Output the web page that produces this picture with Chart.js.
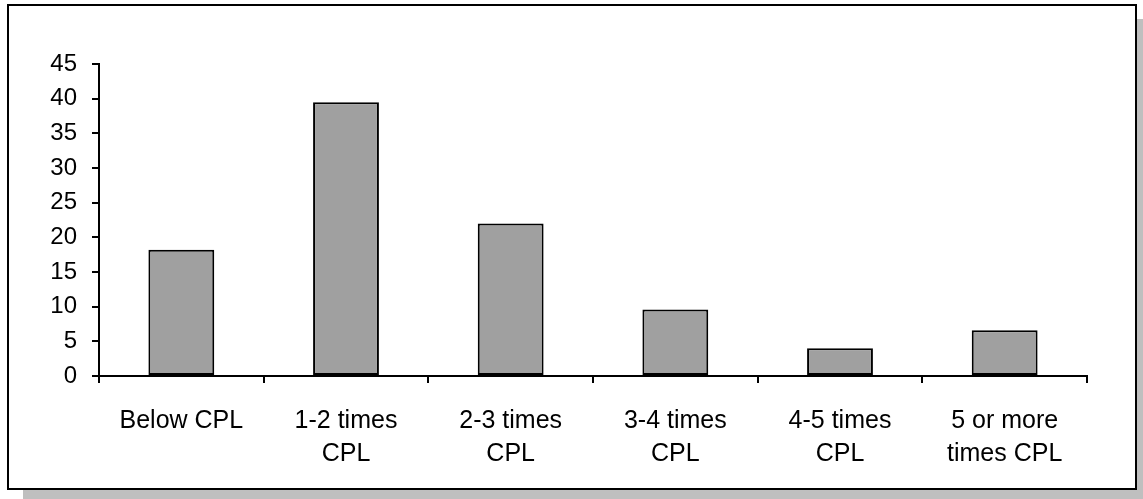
<!DOCTYPE html>
<html>
<head>
<meta charset="utf-8">
<script src="https://cdn.jsdelivr.net/npm/chart.js@4/dist/chart.umd.min.js"></script>
<style>
  html, body { margin: 0; padding: 0; background: #ffffff; }
  #wrap { position: relative; width: 1143px; height: 499px; overflow: hidden; }
  #shadow { position: absolute; left: 23px; top: 19px; width: 1120px; height: 480px; background: #bfbfbf; }
  #frame { position: absolute; left: 7px; top: 4px; width: 1130px; height: 486px; box-sizing: border-box;
           border: 2px solid #000; background: #fff; }
  #c { position: absolute; left: 0; top: 0; }
</style>
</head>
<body>
<div id="wrap">
  <div id="shadow"></div>
  <div id="frame"></div>
  <canvas id="c" width="1143" height="499"></canvas>
</div>
<script>
// Income groups relative to the poverty line (CPL), share of households in %
const categories = [
  'Below CPL',
  ['1-2 times', 'CPL'],
  ['2-3 times', 'CPL'],
  ['3-4 times', 'CPL'],
  ['4-5 times', 'CPL'],
  ['5 or more', 'times CPL']
];
const shares = [18.2, 39.5, 22.0, 9.6, 4.0, 6.6];
const yMin = 0;
const yMax = 45;
const yStep = 5;

const family = '"Liberation Sans", Arial, sans-serif';

new Chart(document.getElementById('c'), {
  type: 'bar',
  data: {
    labels: categories,
    datasets: [{
      data: shares,
      backgroundColor: '#a0a0a0',
      borderColor: '#000000',
      borderWidth: 2,
      borderSkipped: false,
      barPercentage: 0.4,
      categoryPercentage: 1.0
    }]
  },
  options: {
    responsive: false,
    devicePixelRatio: 1,
    animation: false,
    layout: { padding: { top: 64, right: 56, bottom: 0, left: 0 } },
    plugins: { legend: { display: false }, tooltip: { enabled: false } },
    scales: {
      x: {
        offset: true,
        grid: { offset: true, drawOnChartArea: false, drawTicks: true, tickLength: 7, color: '#000', lineWidth: 2 },
        border: { display: true, color: '#000', width: 2 },
        ticks: { color: '#000', font: { family: family, size: 25, lineHeight: 1.3 }, padding: 22, maxRotation: 0, autoSkip: false },
        afterFit: (s) => { s.height = 123; }
      },
      y: {
        min: yMin,
        max: yMax,
        grid: { drawOnChartArea: false, drawTicks: true, tickLength: 7, color: '#000', lineWidth: 2 },
        border: { display: true, color: '#000', width: 2 },
        ticks: { stepSize: yStep, color: '#000', font: { family: family, size: 24 }, padding: 15 },
        afterFit: (s) => { s.width = 99; }
      }
    }
  }
});
</script>
</body>
</html>
